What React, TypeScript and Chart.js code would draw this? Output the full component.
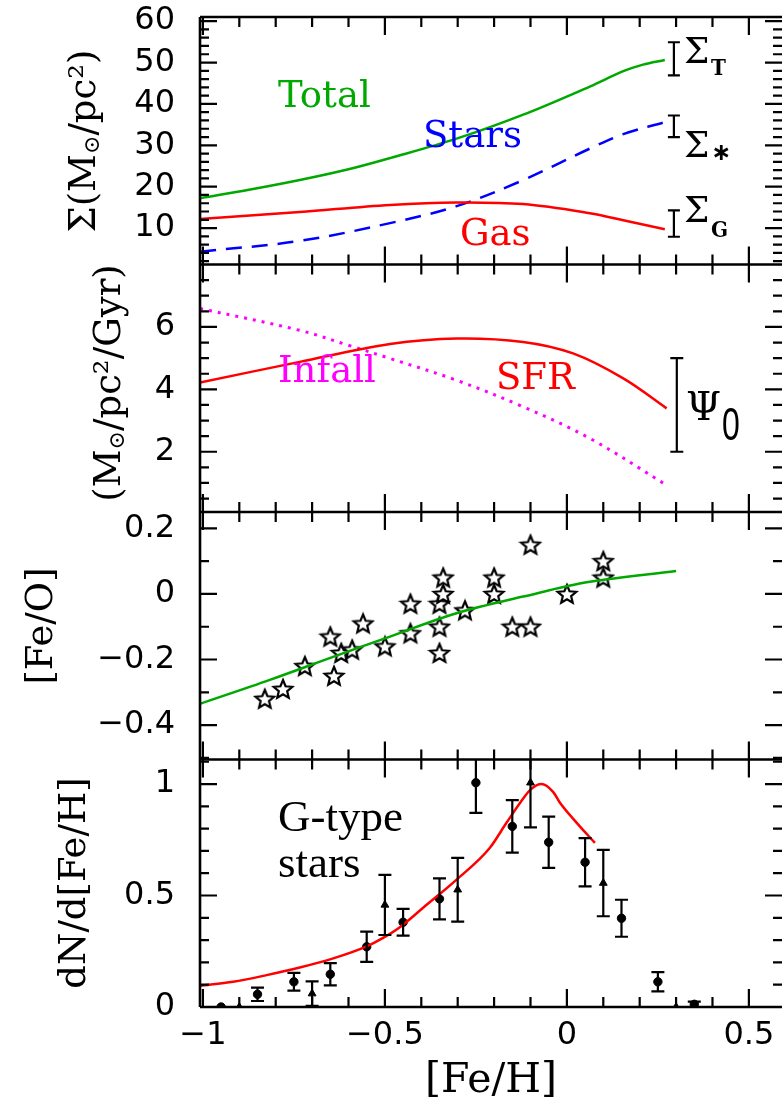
import React, { useEffect, useRef } from "react";
import { Chart, registerables } from "chart.js";
Chart.register(...registerables);

// ---------- shared x axis ----------
const X_MIN = -1.008;
const X_MAX = 0.591;
const X_TICKS = [-1, -0.5, 0, 0.5];

// ---------- panel 1 : surface densities ----------
const P1_RANGE = [1.2, 61];
const P1_TICKS = [10, 20, 30, 40, 50, 60];
const TOTAL_X = [-1.008, -0.87, -0.734, -0.6, -0.486, -0.303, -0.12, 0.063, 0.155, 0.209, 0.269];
const TOTAL_Y = [17.2, 19.3, 21.6, 24.2, 26.9, 31.6, 37.4, 44.2, 47.9, 49.5, 50.6];
const GAS_X = [-1.008, -0.734, -0.486, -0.303, -0.12, 0.063, 0.155, 0.269];
const GAS_Y = [12.2, 13.9, 15.6, 16.2, 15.8, 13.6, 11.9, 9.7];
const STARS_X = [-1.008, -0.734, -0.486, -0.303, -0.12, 0.063, 0.155, 0.269];
const STARS_Y = [4.3, 6.9, 11.2, 15.3, 21.6, 29.2, 32.7, 35.6];
const SIGMA_BAR_X = [0.294, 0.294, 0.294];
const SIGMA_BAR_Y = [50.9, 34.6, 11.1];
const SIGMA_BAR_ERR = [4.0, 2.6, 3.2];

// ---------- panel 2 : SFR & infall ----------
const P2_RANGE = [0.07, 8];
const P2_TICKS = [2, 4, 6];
const SFR_X = [-1.008, -0.734, -0.486, -0.303, -0.12, 0.017, 0.155, 0.274];
const SFR_Y = [4.22, 4.88, 5.45, 5.63, 5.52, 5.15, 4.35, 3.39];
const INFALL_X = [-1.008, -0.734, -0.597, -0.486, -0.303, -0.12, 0.063, 0.274];
const INFALL_Y = [6.59, 5.89, 5.4, 4.99, 4.29, 3.44, 2.43, 0.93];
const PSI_BAR_X = [0.302];
const PSI_BAR_Y = [3.5];
const PSI_BAR_ERR = [1.5];

// ---------- panel 3 : [Fe/O] ----------
const P3_RANGE = [-0.505, 0.25];
const P3_TICKS = [-0.4, -0.2, 0, 0.2];
const FEO_MODEL_X = [-1.008, -0.816, -0.65, -0.486, -0.303, -0.12, 0.063, 0.3];
const FEO_MODEL_Y = [-0.335, -0.262, -0.195, -0.13, -0.059, -0.008, 0.037, 0.07];
const FEO_OBS_X = [-0.83, -0.78, -0.72, -0.65, -0.64, -0.62, -0.59, -0.56, -0.5, -0.43, -0.43, -0.35, -0.35, -0.35, -0.34, -0.34, -0.28, -0.2, -0.2, -0.15, -0.1, -0.1, 0.0, 0.1, 0.1];
const FEO_OBS_Y = [-0.32, -0.29, -0.22, -0.13, -0.25, -0.18, -0.17, -0.09, -0.16, -0.03, -0.12, -0.18, -0.1, -0.03, 0.0, 0.05, -0.05, 0.05, 0.0, -0.1, -0.1, 0.15, 0.0, 0.05, 0.1];

// ---------- panel 4 : metallicity distribution ----------
const P4_RANGE = [0, 1.11];
const P4_TICKS = [0, 0.5, 1];
const MDF_X = [-1.008, -0.917, -0.825, -0.734, -0.642, -0.55, -0.505, -0.459, -0.395, -0.303, -0.212, -0.166, -0.12, -0.1, -0.07, -0.038, -0.019, 0.027, 0.077];
const MDF_Y = [0.095, 0.113, 0.143, 0.177, 0.218, 0.272, 0.31, 0.358, 0.445, 0.571, 0.713, 0.826, 0.935, 0.975, 1.0, 0.965, 0.916, 0.826, 0.736];
const CIRC_X = [-0.95, -0.85, -0.75, -0.65, -0.55, -0.45, -0.35, -0.25, -0.15, -0.05, 0.05, 0.15, 0.25, 0.35];
const CIRC_Y = [0.0, 0.057, 0.113, 0.147, 0.27, 0.38, 0.485, 1.006, 0.81, 0.739, 0.649, 0.398, 0.113, 0.012];
const CIRC_ERR = [0, 0.03, 0.04, 0.05, 0.068, 0.06, 0.092, 0.135, 0.118, 0.115, 0.108, 0.083, 0.043, 0.012];
const TRI_X = [-0.9, -0.7, -0.5, -0.3, -0.1, 0.1, 0.3];
const TRI_Y = [0.0, 0.06, 0.458, 0.526, 1.006, 0.556, 0.0];
const TRI_ERR = [0, 0.055, 0.135, 0.143, 0.2, 0.149, 0];

const GREEN = "#00a800";
const RED = "#ff0000";
const BLUE = "#0000ff";
const MAGENTA = "#ff00ff";

const range = (a: number, b: number, s: number) => {
  const out: number[] = [];
  for (let v = a; v <= b + 1e-9; v += s) out.push(Math.round(v * 1000) / 1000);
  return out;
};
const X_MINOR = range(-1, 0.5, 0.1);
const PANEL_TICKS = [
  { id: "y1", major: P1_TICKS, minor: range(2, 60, 2) },
  { id: "y2", major: P2_TICKS, minor: range(0.5, 7.5, 0.5) },
  { id: "y3", major: P3_TICKS, minor: range(-0.5, 0.2, 0.1) },
  { id: "y4", major: P4_TICKS, minor: range(0, 1.1, 0.1) },
];

const fmt = (v: number) => {
  const s = String(Math.round(v * 100) / 100);
  return s.replace("-", "\u2212");
};

const pts = (xs: number[], ys: number[]) => xs.map((x, i) => ({ x, y: ys[i] }));

function makeStar(): HTMLCanvasElement {
  const c = document.createElement("canvas");
  c.width = 24;
  c.height = 24;
  const g = c.getContext("2d")!;
  g.beginPath();
  for (let i = 0; i < 10; i++) {
    const r = i % 2 === 0 ? 9.8 : 4.4;
    const a = -Math.PI / 2 + (i * Math.PI) / 5;
    g.lineTo(12 + r * Math.cos(a), 12.8 + r * Math.sin(a));
  }
  g.closePath();
  g.fillStyle = "#fff";
  g.fill();
  g.lineWidth = 2.2;
  g.strokeStyle = "#000";
  g.stroke();
  return c;
}

function txt(ctx: CanvasRenderingContext2D, s: string, x: number, y: number, font: string, color: string, sy = 1, align: CanvasTextAlign = "left") {
  ctx.save();
  ctx.font = font;
  ctx.fillStyle = color;
  ctx.textAlign = align;
  ctx.textBaseline = "alphabetic";
  ctx.translate(x, y);
  ctx.scale(1, sy);
  ctx.fillText(s, 0, 0);
  ctx.restore();
}

type Seg = { t: string; font: string; dy?: number };
function vtitle(ctx: CanvasRenderingContext2D, segs: Seg[], cx: number, cy: number) {
  ctx.save();
  ctx.translate(cx, cy);
  ctx.rotate(-Math.PI / 2);
  ctx.textBaseline = "middle";
  ctx.fillStyle = "#000";
  let total = 0;
  for (const s of segs) {
    ctx.font = s.font;
    total += ctx.measureText(s.t).width;
  }
  let x = -total / 2;
  for (const s of segs) {
    ctx.font = s.font;
    ctx.fillText(s.t, x, s.dy || 0);
    x += ctx.measureText(s.t).width;
  }
  ctx.restore();
}

const TF = '37px "DejaVu Serif"';
const SUBF = '22px "DejaVu Serif"';
const LABF = '37px "DejaVu Serif"';
const TICKF = { family: "DejaVu Sans", size: 32, lineHeight: 1 };

const overlayPlugin = {
  id: "overlay",
  afterDatasetsDraw(chart: any) {
    const ctx: CanvasRenderingContext2D = chart.ctx;
    const xs = chart.scales.x;
    const ca = chart.chartArea;
    ctx.save();
    ctx.strokeStyle = "#000";
    ctx.fillStyle = "#000";

    const bar = (px: number, yTop: number, yBot: number, capTop: boolean, capBot: boolean, cap: number) => {
      ctx.beginPath();
      ctx.moveTo(px, yTop);
      ctx.lineTo(px, yBot);
      if (capTop) {
        ctx.moveTo(px - cap, yTop);
        ctx.lineTo(px + cap, yTop);
      }
      if (capBot) {
        ctx.moveTo(px - cap, yBot);
        ctx.lineTo(px + cap, yBot);
      }
      ctx.stroke();
    };
    ctx.lineWidth = 2.2;
    chart.data.datasets.forEach((ds: any) => {
      if (!ds.errBars) return;
      const ys = chart.scales[ds.yAxisID];
      ds.data.forEach((p: any, i: number) => {
        const e = ds.errBars[i];
        if (!e) return;
        const px = xs.getPixelForValue(p.x);
        let t = ys.getPixelForValue(p.y + e);
        let b = ys.getPixelForValue(p.y - e);
        const ct = t >= ys.top;
        const cb = b <= ys.bottom;
        t = Math.max(t, ys.top);
        b = Math.min(b, ys.bottom);
        bar(px, t, b, ct, cb, 6.5);
      });
    });
    const y1 = chart.scales.y1;
    SIGMA_BAR_X.forEach((xv, i) => {
      bar(xs.getPixelForValue(xv), y1.getPixelForValue(SIGMA_BAR_Y[i] + SIGMA_BAR_ERR[i]), y1.getPixelForValue(SIGMA_BAR_Y[i] - SIGMA_BAR_ERR[i]), true, true, 6);
    });
    const y2 = chart.scales.y2;
    PSI_BAR_X.forEach((xv, i) => {
      bar(xs.getPixelForValue(xv), y2.getPixelForValue(PSI_BAR_Y[i] + PSI_BAR_ERR[i]), y2.getPixelForValue(PSI_BAR_Y[i] - PSI_BAR_ERR[i]), true, true, 6.5);
    });

    // frame and ticks
    const L = ca.left;
    const R = ca.right;
    ctx.lineWidth = 2.6;
    ctx.beginPath();
    ctx.moveTo(L, ca.top);
    ctx.lineTo(L, ca.bottom);
    ctx.stroke();
    PANEL_TICKS.forEach((p, k) => {
      const s = chart.scales[p.id];
      ctx.lineWidth = 2.6;
      ctx.beginPath();
      if (k === 0) {
        ctx.moveTo(L, s.top);
        ctx.lineTo(R, s.top);
      }
      ctx.moveTo(L, s.bottom);
      ctx.lineTo(R, s.bottom);
      ctx.stroke();
      ctx.lineWidth = 2.2;
      ctx.beginPath();
      const yt = (v: number, len: number) => {
        const py = s.getPixelForValue(v);
        if (py < s.top - 0.5 || py > s.bottom + 0.5) return;
        ctx.moveTo(L, py);
        ctx.lineTo(L + len, py);
        ctx.moveTo(R, py);
        ctx.lineTo(R - len, py);
      };
      p.minor.forEach((v) => yt(v, 9));
      p.major.forEach((v) => yt(v, 17));
      const xt = (v: number, len: number) => {
        const px = xs.getPixelForValue(v);
        ctx.moveTo(px, s.top);
        ctx.lineTo(px, s.top + len);
        ctx.moveTo(px, s.bottom);
        ctx.lineTo(px, s.bottom - len);
      };
      X_MINOR.forEach((v) => xt(v, 10));
      X_TICKS.forEach((v) => xt(v, 18));
      ctx.stroke();
    });

    // in-panel labels
    txt(ctx, "Total", 278, 107, LABF, GREEN);
    txt(ctx, "Stars", 423, 147, LABF, BLUE);
    txt(ctx, "Gas", 460, 245, LABF, RED);
    txt(ctx, "Infall", 278, 382, LABF, MAGENTA);
    txt(ctx, "SFR", 496, 389, LABF, RED);
    txt(ctx, "G-type", 278, 831, '45px "Liberation Serif"', "#000");
    txt(ctx, "stars", 278, 877, '45px "Liberation Serif"', "#000");

    // Sigma / Psi labels
    txt(ctx, "\u03A3", 684, 63, '36px "DejaVu Serif"', "#000");
    txt(ctx, "T", 711, 75, 'bold 20px "DejaVu Serif"', "#000", 1.1);
    txt(ctx, "\u03A3", 684, 157, '36px "DejaVu Serif"', "#000");
    txt(ctx, "\u2217", 711, 160, 'bold 24px "DejaVu Sans"', "#000");
    txt(ctx, "\u03A3", 684, 222, '36px "DejaVu Serif"', "#000");
    txt(ctx, "G", 711, 237, 'bold 20px "DejaVu Serif"', "#000", 1.1);
    txt(ctx, "\u03A8", 686, 420, '40px "DejaVu Serif"', "#000");
    txt(ctx, "0", 722, 440, '32px "Liberation Sans"', "#000", 1.45);

    // axis titles
    vtitle(ctx, [
      { t: "\u03A3(M", font: TF },
      { t: "\u2299", font: SUBF, dy: 8 },
      { t: "/pc\u00B2)", font: TF },
    ], 85, 141);
    vtitle(ctx, [
      { t: "(M", font: TF },
      { t: "\u2299", font: SUBF, dy: 8 },
      { t: "/pc\u00B2/Gyr)", font: TF },
    ], 110, 383);
    vtitle(ctx, [{ t: "[Fe/O]", font: TF }], 42, 626);
    vtitle(ctx, [{ t: "dN/d[Fe/H]", font: TF }], 75, 883);
    txt(ctx, "[Fe/H]", 491, 1092, '41px "DejaVu Serif"', "#000", 1, "center");
    ctx.restore();
  },
};

const yAxis = (r: number[], ticks: number[], weight: number) => ({
  type: "linear",
  position: "left",
  stack: "panels",
  stackWeight: 1,
  weight,
  min: r[0],
  max: r[1],
  afterBuildTicks: (s: any) => {
    s.ticks = ticks.map((v) => ({ value: v }));
  },
  afterFit: (s: any) => {
    s.width = 200;
    s.paddingTop = 0;
    s.paddingBottom = 0;
  },
  ticks: {
    autoSkip: false,
    padding: 25,
    color: "#000",
    font: TICKF,
    callback: (v: any) => fmt(Number(v)),
  },
  grid: { display: false, drawTicks: false },
  border: { display: false },
});

export default function App() {
  const ref = useRef<HTMLCanvasElement | null>(null);
  useEffect(() => {
    if (!ref.current) return;
    const star = makeStar();
    const line = (xs: number[], ys: number[], yAxisID: string, color: string, extra: any = {}) => ({
      type: "line",
      data: pts(xs, ys),
      yAxisID,
      borderColor: color,
      borderWidth: 2.5,
      pointRadius: 0,
      fill: false,
      tension: 0.35,
      ...extra,
    });
    const chart = new Chart(ref.current, {
      type: "scatter",
      data: {
        datasets: [
          line(TOTAL_X, TOTAL_Y, "y1", GREEN),
          line(GAS_X, GAS_Y, "y1", RED),
          line(STARS_X, STARS_Y, "y1", BLUE, { borderDash: [16, 10] }),
          line(SFR_X, SFR_Y, "y2", RED),
          line(INFALL_X, INFALL_Y, "y2", MAGENTA, { borderDash: [3, 6], borderWidth: 3 }),
          line(FEO_MODEL_X, FEO_MODEL_Y, "y3", GREEN),
          {
            type: "scatter",
            data: pts(FEO_OBS_X, FEO_OBS_Y),
            yAxisID: "y3",
            pointStyle: star,
            pointRadius: 10,
          },
          line(MDF_X, MDF_Y, "y4", RED, { cubicInterpolationMode: "monotone" }),
          {
            type: "scatter",
            data: pts(CIRC_X, CIRC_Y),
            yAxisID: "y4",
            pointStyle: "circle",
            pointRadius: 4.2,
            backgroundColor: "#000",
            borderColor: "#000",
            borderWidth: 1,
            errBars: CIRC_ERR,
          },
          {
            type: "scatter",
            data: pts(TRI_X, TRI_Y),
            yAxisID: "y4",
            pointStyle: "triangle",
            pointRadius: 4.5,
            backgroundColor: "#000",
            borderColor: "#000",
            borderWidth: 1,
            errBars: TRI_ERR,
          },
        ] as any,
      },
      options: {
        animation: false,
        responsive: false,
        maintainAspectRatio: false,
        layout: { autoPadding: false, padding: { top: 17, left: 0, right: 0, bottom: 0 } },
        plugins: { legend: { display: false }, tooltip: { enabled: false } },
        scales: {
          x: {
            type: "linear",
            position: "bottom",
            min: X_MIN,
            max: X_MAX,
            afterBuildTicks: (s: any) => {
              s.ticks = X_TICKS.map((v) => ({ value: v }));
            },
            afterFit: (s: any) => {
              s.height = 94;
              s.paddingLeft = 0;
              s.paddingRight = 0;
            },
            ticks: {
              autoSkip: false,
              maxRotation: 0,
              padding: 13,
              color: "#000",
              font: TICKF,
              callback: (v: any) => fmt(Number(v)),
            },
            grid: { display: false, drawTicks: false },
            border: { display: false },
          },
          y1: yAxis(P1_RANGE, P1_TICKS, 4),
          y2: yAxis(P2_RANGE, P2_TICKS, 3),
          y3: yAxis(P3_RANGE, P3_TICKS, 2),
          y4: yAxis(P4_RANGE, P4_TICKS, 1),
        } as any,
      },
      plugins: [overlayPlugin],
    });
    return () => chart.destroy();
  }, []);
  return (
    <div style={{ position: "absolute", left: 0, top: 0, width: 782, height: 1101, background: "#fff" }}>
      <canvas ref={ref} width={782} height={1101} />
    </div>
  );
}
